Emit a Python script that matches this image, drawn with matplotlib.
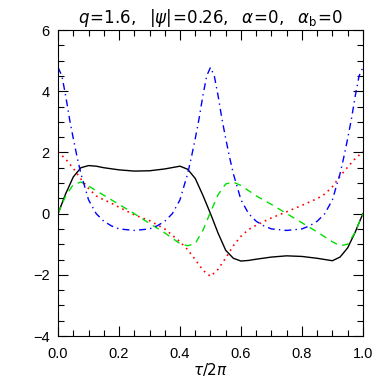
import numpy as np
import matplotlib.pyplot as plt
from matplotlib.ticker import MultipleLocator

plt.rcParams['font.family'] = ['Liberation Sans', 'DejaVu Sans']
plt.rcParams['mathtext.fontset'] = 'dejavusans'

# values (tau/2pi on x)
x_black = [0.0, 0.025, 0.05, 0.075, 0.1, 0.125, 0.15, 0.2, 0.25, 0.3, 0.35, 0.4,
           0.425, 0.45, 0.475, 0.5, 0.525, 0.55, 0.575, 0.6, 0.625, 0.65, 0.7,
           0.75, 0.8, 0.85, 0.9, 0.925, 0.95, 0.975, 1.0]
y_black = [0.0, 0.65, 1.2, 1.5, 1.57, 1.55, 1.5, 1.43, 1.39, 1.4, 1.46, 1.55,
           1.45, 1.15, 0.6, 0.0, -0.64, -1.2, -1.46, -1.55, -1.53, -1.49, -1.42,
           -1.38, -1.4, -1.46, -1.54, -1.42, -1.12, -0.6, 0.0]

x_blue = [0.0, 0.0125, 0.025, 0.0375, 0.05, 0.0625, 0.075, 0.0875, 0.1, 0.125,
          0.15, 0.175, 0.2, 0.25, 0.3, 0.325, 0.35, 0.375, 0.4, 0.4125, 0.425,
          0.4375, 0.45, 0.4625, 0.475, 0.4875, 0.5, 0.5125, 0.525, 0.5375, 0.55,
          0.5625, 0.575, 0.5875, 0.6, 0.625, 0.65, 0.675, 0.7, 0.75, 0.8, 0.825,
          0.85, 0.875, 0.9, 0.9125, 0.925, 0.9375, 0.95, 0.9625, 0.975, 0.9875, 1.0]
y_blue = [4.78, 4.5, 3.85, 3.1, 2.45, 1.85, 1.3, 0.88, 0.45, 0.0,
          -0.25, -0.4, -0.5, -0.55, -0.5, -0.4, -0.25, 0.0, 0.45, 0.88, 1.3,
          1.85, 2.45, 3.1, 3.85, 4.5, 4.78, 4.5, 3.85, 3.1, 2.45,
          1.85, 1.3, 0.88, 0.45, 0.0, -0.25, -0.4, -0.5, -0.55, -0.5, -0.4,
          -0.25, 0.0, 0.45, 0.88, 1.3, 1.85, 2.45, 3.1, 3.85, 4.5, 4.78]

x_red = [0.0, 0.025, 0.05, 0.075, 0.1, 0.125, 0.15, 0.175, 0.2, 0.25, 0.3, 0.35,
         0.4, 0.425, 0.45, 0.475, 0.5, 0.525, 0.55, 0.575, 0.6, 0.625, 0.65, 0.7,
         0.75, 0.8, 0.85, 0.875, 0.9, 0.925, 0.95, 0.975, 1.0]
y_red = [2.02, 1.78, 1.48, 1.13, 0.82, 0.58, 0.45, 0.34, 0.21, -0.04, -0.23, -0.5,
         -0.92, -1.18, -1.5, -1.85, -2.05, -1.82, -1.45, -1.05, -0.74, -0.52, -0.38, -0.14,
         0.06, 0.27, 0.49, 0.64, 0.88, 1.22, 1.52, 1.8, 2.02]

x_green = [0.0, 0.025, 0.05, 0.075, 0.1, 0.125, 0.15, 0.2, 0.25, 0.3, 0.35, 0.4,
           0.425, 0.45, 0.475, 0.5, 0.525, 0.55, 0.575, 0.6, 0.65, 0.7, 0.75, 0.8,
           0.85, 0.9, 0.925, 0.95, 0.975, 1.0]
y_green = [0.0, 0.58, 0.95, 1.03, 0.9, 0.75, 0.6, 0.3, 0.0, -0.32, -0.63, -0.98,
           -1.05, -0.98, -0.55, 0.05, 0.62, 0.97, 1.03, 0.92, 0.58, 0.3, 0.0, -0.3,
           -0.6, -0.92, -1.05, -1.0, -0.6, 0.0]

fig = plt.figure(figsize=(3.82, 3.82), dpi=100)
ax = fig.add_axes([0.152, 0.1204, 0.798, 0.801])

ax.plot(x_black, y_black, color='black', lw=1.0)
ax.plot(x_red, y_red, color='red', lw=1.2, linestyle=(0, (1, 2.5)))
ax.plot(x_green, y_green, color='#00e000', lw=1.0, linestyle=(0, (5, 4)))
ax.plot(x_blue, y_blue, color='blue', lw=1.0, linestyle=(0, (5, 3, 1, 3)))

ax.set_xlim(0, 1)
ax.set_ylim(-4, 6)
ax.xaxis.set_major_locator(MultipleLocator(0.2))
ax.xaxis.set_minor_locator(MultipleLocator(0.05))
ax.yaxis.set_major_locator(MultipleLocator(2))
ax.yaxis.set_minor_locator(MultipleLocator(0.5))
ax.tick_params(which='both', direction='in', top=True, right=True, labelsize=10.5, width=0.8)
ax.tick_params(which='major', length=7)
ax.tick_params(which='minor', length=4)
ax.xaxis.set_major_formatter(lambda v, p: f'{v:.1f}')
ax.yaxis.set_major_formatter(lambda v, p: f'{v:.0f}'.replace('-', '\u2212'))
ax.tick_params(axis='x', pad=8)
ax.tick_params(axis='y', pad=6)
for s in ax.spines.values():
    s.set_linewidth(0.8)

ax.set_title(r'$q\!=\!1.6,\ \ |\psi|\!=\!0.26,\ \ \alpha\!=\!0,\ \ \alpha_{\rm b}\!=\!0$',
             fontsize=12, pad=5)
ax.set_xlabel(r'$\tau/2\pi$', fontsize=11, labelpad=0)

fig.savefig('out.png', dpi=100)
